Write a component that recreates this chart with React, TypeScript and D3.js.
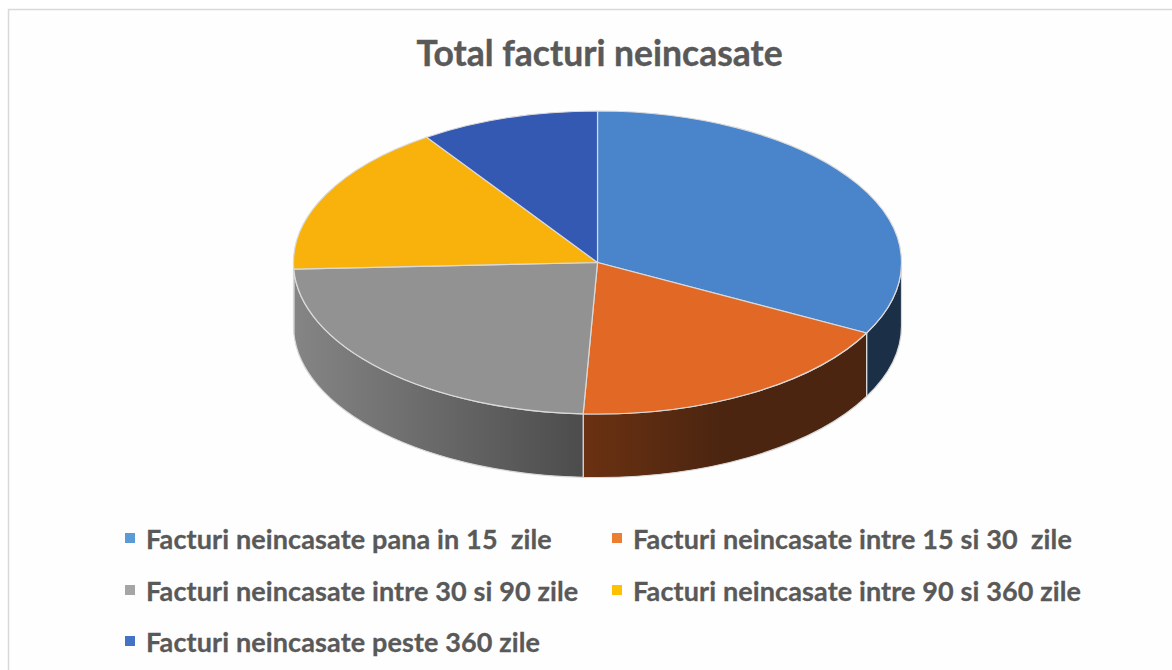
import React from "react";
import * as d3 from "d3";

const categories = [
  "Facturi neincasate pana in 15  zile",
  "Facturi neincasate intre 15 si 30  zile",
  "Facturi neincasate intre 30 si 90 zile",
  "Facturi neincasate intre 90 si 360 zile",
  "Facturi neincasate peste 360 zile",
];
const values = [32.7, 18.05, 23.55, 16.2, 9.5];
const topColors = ["#4A84CA", "#E26825", "#929292", "#F9B20B", "#3459B3"];
const legendColors = ["#5B9BD5", "#ED7D31", "#A5A5A5", "#FFC000", "#4472C4"];
const wallStops: [string, string][] = [
  ["#1B2F47", "#1B2F47"],
  ["#6B3112", "#4B2510"],
  ["#858585", "#4C4C4C"],
  ["#8A6506", "#8A6506"],
  ["#1D3166", "#1D3166"],
];
const title = "Total facturi neincasate";

const W = 1172, H = 670;
const cx = 597.5, cy = 262.5, rx = 304, ry = 151.5, depth = 63.5;

const legendPos = [
  { x: 125, y: 540 },
  { x: 612, y: 540 },
  { x: 125, y: 592 },
  { x: 612, y: 592 },
  { x: 125, y: 643 },
];

const pt = (a: number, dy = 0): [number, number] => [
  cx + rx * Math.sin(a),
  cy - ry * Math.cos(a) + dy,
];

function wallPath(a0: number, a1: number) {
  const s = Math.max(a0, Math.PI / 2);
  const e = Math.min(a1, (3 * Math.PI) / 2);
  if (e <= s) return null;
  const [x0, y0] = pt(s);
  const [x1, y1] = pt(e);
  const [x2, y2] = pt(e, depth);
  const [x3, y3] = pt(s, depth);
  return {
    d: `M${x0},${y0}A${rx},${ry} 0 0 1 ${x1},${y1}L${x2},${y2}A${rx},${ry} 0 0 0 ${x3},${y3}Z`,
    x0: Math.min(x0, x1),
    x1: Math.max(x0, x1),
  };
}

export default function App() {
  const arcs = d3.pie<number>().sort(null)(values);
  const arcGen = d3.arc<d3.PieArcDatum<number>>().innerRadius(0).outerRadius(rx);
  return (
    <svg
      width={W}
      height={H}
      viewBox={`0 0 ${W} ${H}`}
      style={{ position: "absolute", left: 0, top: 0, background: "#fff" }}
    >
      <defs>
        {arcs.map((a, i) => {
          const w = wallPath(a.startAngle, a.endAngle);
          if (!w) return null;
          return (
            <linearGradient
              key={i}
              id={`wall${i}`}
              gradientUnits="userSpaceOnUse"
              x1={w.x0}
              x2={i === 1 ? w.x0 + 140 : w.x1}
              y1={0}
              y2={0}
            >
              <stop offset="0" stopColor={wallStops[i][0]} />
              <stop offset="1" stopColor={wallStops[i][1]} />
            </linearGradient>
          );
        })}
      </defs>
      <rect x={8.5} y={9.5} width={W + 20} height={H + 20} fill="#fefefe" stroke="#D9D9D9" strokeWidth={1.5} />
      <text
        x={599.5}
        y={66}
        textAnchor="middle"
        fontFamily="Lato, 'Open Sans', sans-serif"
        fontWeight={700}
        fontSize={35.5}
        fill="#595959"
        stroke="#595959"
        strokeWidth={0.4}
      >
        {title}
      </text>
      {arcs.map((a, i) => {
        const w = wallPath(a.startAngle, a.endAngle);
        return w ? (
          <path key={i} d={w.d} fill={`url(#wall${i})`} stroke="#D9D9D9" strokeWidth={1.2} strokeLinejoin="round" />
        ) : null;
      })}
      <g transform={`translate(${cx},${cy}) scale(1,${ry / rx})`}>
        {arcs.map((a, i) => (
          <path
            key={i}
            d={arcGen(a) as string}
            fill={topColors[i]}
            stroke="#DADADA"
            strokeWidth={1.2}
            vectorEffect="non-scaling-stroke"
          />
        ))}
      </g>
      {categories.map((c, i) => (
        <g key={i}>
          <rect x={legendPos[i].x} y={legendPos[i].y - 7} width={10} height={10} fill={legendColors[i]} />
          <text
            x={legendPos[i].x + 21}
            y={legendPos[i].y + 9}
            fontFamily="Lato, 'Open Sans', sans-serif"
            fontWeight={700}
            fontSize={27}
            letterSpacing={0.12}
            fill="#595959"
            stroke="#595959"
            strokeWidth={0.3}
            style={{ whiteSpace: "pre" }}
          >
            {c}
          </text>
        </g>
      ))}
    </svg>
  );
}
